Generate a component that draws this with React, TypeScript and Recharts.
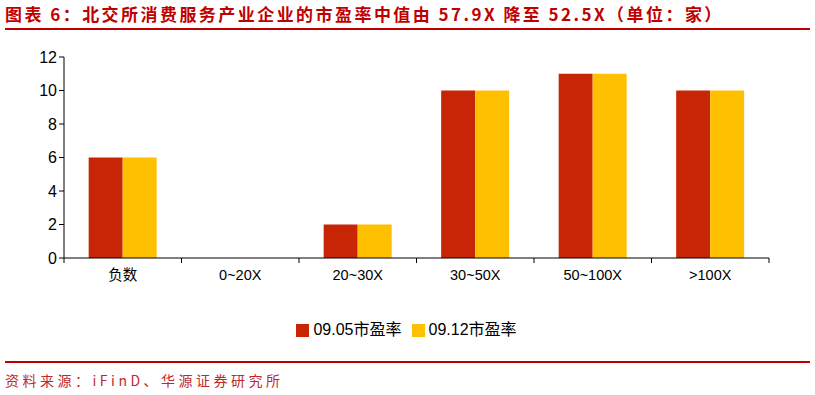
import React from 'react'
import { BarChart, Bar, XAxis, YAxis, Legend } from 'recharts'

// 市盈率区间 & 公司家数
const categories = ['负数', '0~20X', '20~30X', '30~50X', '50~100X', '>100X']
const pe0905 = [6, 0, 2, 10, 11, 10]
const pe0912 = [6, 0, 2, 10, 11, 10]
const yTicks = [0, 2, 4, 6, 8, 10, 12]

const seriesNames = ['09.05市盈率', '09.12市盈率']

const RED = '#C82506'
const YELLOW = '#FFC000'
const TITLE_RED = '#C00000'

const CHART_W = 815
const PLOT_LEFT = 64
const PLOT_RIGHT = 46
const band = (CHART_W - PLOT_LEFT - PLOT_RIGHT) / categories.length

const chartData = categories.map((name, i) => ({
  name,
  a: pe0905[i],
  b: pe0912[i],
}))

// x 轴刻度线画在类别分界处
const CategoryTick = (props: any) => {
  const { x, y, payload, index } = props
  const left = x - band / 2
  return (
    <g>
      <line x1={left} y1={y - 8} x2={left} y2={y - 3} stroke="#000" />
      {index === categories.length - 1 && (
        <line x1={x + band / 2} y1={y - 8} x2={x + band / 2} y2={y - 3} stroke="#000" />
      )}
      <text x={x} y={y + 14} textAnchor="middle" fontSize={14.5} fill="#000" fontFamily="Arial, 'Liberation Sans', 'Noto Sans CJK SC', sans-serif">
        {payload.value}
      </text>
    </g>
  )
}

const App: React.FC = () => {
  return (
    <div style={{ position: 'absolute', left: 0, top: 0, width: 815, height: 395, background: '#fff', fontFamily: "'Noto Sans CJK SC', sans-serif" }}>
      <div style={{ position: 'absolute', left: 5, top: 3, fontSize: 17, fontWeight: 700, color: TITLE_RED, whiteSpace: 'nowrap', lineHeight: '22px', letterSpacing: 2.45 }}>
        图表 6：北交所消费服务产业企业的市盈率中值由 57.9X 降至 52.5X（单位：家）
      </div>
      <div style={{ position: 'absolute', left: 5, top: 28, width: 805, height: 2, background: TITLE_RED }} />

      <div style={{ position: 'absolute', left: 0, top: 0 }}>
        <BarChart
          width={CHART_W}
          height={345}
          data={chartData}
          margin={{ top: 57, right: PLOT_RIGHT, left: 0, bottom: 0 }}
          barGap={0}
          barCategoryGap="21%"
        >
          <YAxis
            width={PLOT_LEFT}
            domain={[0, 12]}
            ticks={yTicks}
            interval={0}
            axisLine={{ stroke: '#000' }}
            tickLine={{ stroke: '#000' }}
            tickSize={5}
            tick={{ fontSize: 16, fill: '#000', fontFamily: "Arial, 'Liberation Sans', sans-serif" }}
          />
          <XAxis
            dataKey="name"
            height={57}
            interval={0}
            axisLine={{ stroke: '#000' }}
            tickLine={false}
            tick={<CategoryTick />}
          />
          <Legend
            verticalAlign="bottom"
            height={30}
            iconType="square"
            iconSize={13}
            wrapperStyle={{ left: 4, width: CHART_W, top: 316, fontSize: 16, color: '#000', fontFamily: "Arial, 'Liberation Sans', 'Noto Sans CJK SC', sans-serif" }}
            formatter={(value: string) => <span style={{ color: '#000' }}>{value}</span>}
          />
          <Bar dataKey="a" name={seriesNames[0]} fill={RED} isAnimationActive={false} />
          <Bar dataKey="b" name={seriesNames[1]} fill={YELLOW} isAnimationActive={false} />
        </BarChart>
      </div>

      <div style={{ position: 'absolute', left: 5, top: 361, width: 805, height: 2, background: TITLE_RED }} />
      <div style={{ position: 'absolute', left: 5, top: 370, fontSize: 14, color: '#C0282D', letterSpacing: 3.5, whiteSpace: 'nowrap', lineHeight: '20px' }}>
        资料来源：iFinD、华源证券研究所
      </div>
    </div>
  )
}

export default App
